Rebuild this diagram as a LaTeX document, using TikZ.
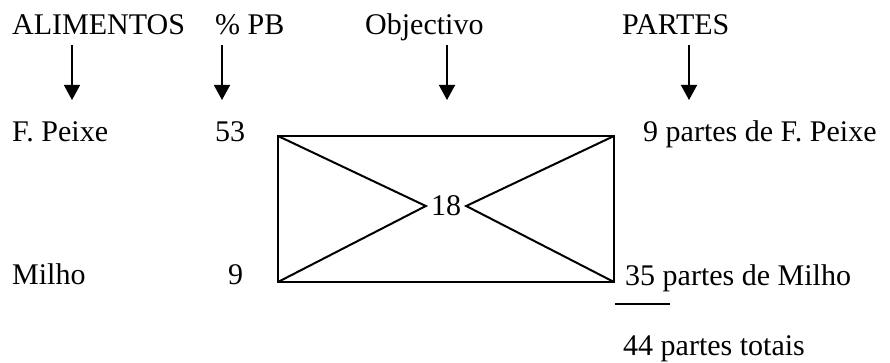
\documentclass[tikz,border=0pt]{standalone}
\usepackage{fontspec}
\setmainfont{Liberation Serif}
\usetikzlibrary{arrows.meta}

\tikzset{
  lbl/.style={anchor=base west,inner sep=0pt},
  arr/.style={line width=1.6pt,-{Triangle[length=15pt,width=16pt]}},
  edge/.style={line width=2pt}
}

\begin{document}
\begin{tikzpicture}[x=1pt,y=-1pt,font=\fontsize{30}{36}\selectfont]
\path[use as bounding box] (0,0) rectangle (890,363);
% cabecalhos
\node[lbl] (alim) at (12,35) {ALIMENTOS};
\node[lbl] (pb) at (215,35) {\% PB};
\node[lbl] (obj) at (365,35) {Objectivo};
\node[lbl] (part) at (622,35) {PARTES};
% setas
\coordinate (a1) at (72,45);  \coordinate (b1) at (72,100);
\coordinate (a2) at (222,45); \coordinate (b2) at (222,100);
\coordinate (a3) at (447,45); \coordinate (b3) at (447,100);
\coordinate (a4) at (689,45); \coordinate (b4) at (689,100);
\draw[arr] (a1) -- (b1);
\draw[arr] (a2) -- (b2);
\draw[arr] (a3) -- (b3);
\draw[arr] (a4) -- (b4);
% linhas
\node[lbl] (peixe) at (12,142) {F. Peixe};
\node[lbl] (v53) at (215,142) {53};
\node[lbl] (p9) at (643,142) {9 partes de F. Peixe};
\node[lbl] (milho) at (12,284) {Milho};
\node[lbl] (v9) at (228,284) {9};
\node[lbl] (p35) at (625,285) {35 partes de Milho};
\node[lbl] (tot) at (623,355) {44 partes totais};
% quadrado de Pearson
\coordinate (tl) at (278,136); \coordinate (tr) at (614,136);
\coordinate (bl) at (278,282); \coordinate (br) at (614,282);
\node[inner sep=5pt] (n18) at (446,206) {18};
\draw[edge] (tl) rectangle (br);
\draw[edge] (tl) -- (n18.west) -- (bl);
\draw[edge] (tr) -- (n18.east) -- (br);
\coordinate (u1) at (615,304); \coordinate (u2) at (670,304);
\draw[line width=1.6pt] (u1) -- (u2);
\end{tikzpicture}
\end{document}
